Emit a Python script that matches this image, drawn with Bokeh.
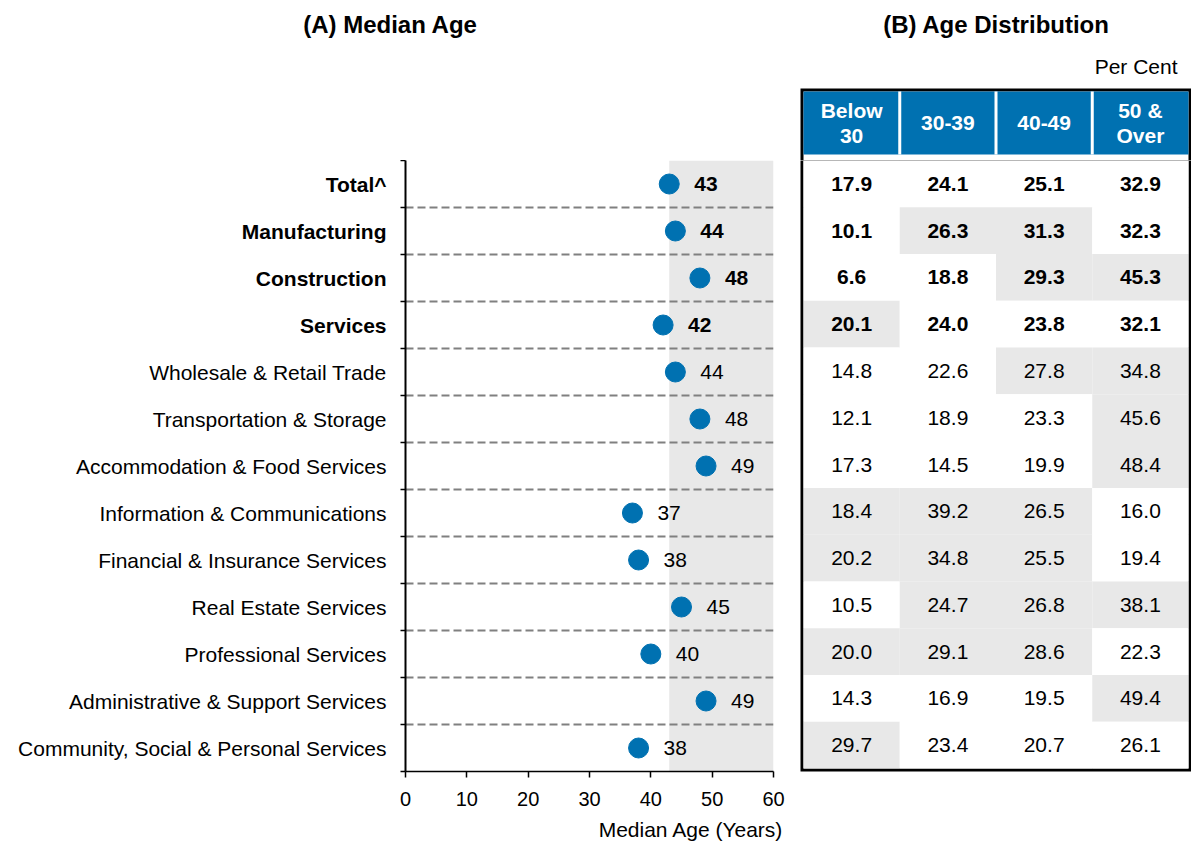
from bokeh.plotting import figure
from bokeh.models import ColumnDataSource, Range1d, FixedTicker, BoxAnnotation, Title
from bokeh.layouts import row, column
from bokeh.embed import file_html
from bokeh.resources import INLINE
from bokeh.core.properties import value, field

# ---------------- data ----------------
industries = [
    "Total^", "Manufacturing", "Construction", "Services",
    "Wholesale & Retail Trade", "Transportation & Storage",
    "Accommodation & Food Services", "Information & Communications",
    "Financial & Insurance Services", "Real Estate Services",
    "Professional Services", "Administrative & Support Services",
    "Community, Social & Personal Services",
]
median_age = [43, 44, 48, 42, 44, 48, 49, 37, 38, 45, 40, 49, 38]
n_bold = 4  # Total and the three broad sectors are shown in bold

age_groups = ["Below\n30", "30-39", "40-49", "50 &\nOver"]
below_30 = [17.9, 10.1, 6.6, 20.1, 14.8, 12.1, 17.3, 18.4, 20.2, 10.5, 20.0, 14.3, 29.7]
age_30_39 = [24.1, 26.3, 18.8, 24.0, 22.6, 18.9, 14.5, 39.2, 34.8, 24.7, 29.1, 16.9, 23.4]
age_40_49 = [25.1, 31.3, 29.3, 23.8, 27.8, 23.3, 19.9, 26.5, 25.5, 26.8, 28.6, 19.5, 20.7]
age_50_over = [32.9, 32.3, 45.3, 32.1, 34.8, 45.6, 48.4, 16.0, 19.4, 38.1, 22.3, 49.4, 26.1]

x_ticks = [0, 10, 20, 30, 40, 50, 60]

title_a = "(A) Median Age"
title_b = "(B) Age Distribution"
unit_note = "Per Cent"
x_title = "Median Age (Years)"

# ---------------- style ----------------
FONT = "Liberation Sans"
FS = "21px"
TICK_FS = "20px"
TFS = "24px"
BLUE = "#0071b1"
SHADE = "#e8e8e8"
DASH = "#808080"

nrows = len(industries)
ncols = len(age_groups)
styles = ["bold" if i < n_bold else "normal" for i in range(nrows)]
yc = [nrows - i - 0.5 for i in range(nrows)]

PAGE_W, PAGE_H = 1191, 848
A_LEFT, A_RIGHT, A_TOP, A_BOTTOM = 405, 773, 160, 773  # page px of chart frame
TOP_H = A_TOP                   # title / table-header strip
MID_H = PAGE_H - TOP_H
L_W = 390                       # label column width
A_W = 795 - L_W                 # chart figure width
B_W = PAGE_W - L_W - A_W        # table figure width

# table geometry (page px)
T_OUT_L, T_OUT_R, T_OUT_T = 800, 1191, 88
BW = 3                          # border width
T_IN_L, T_IN_R = T_OUT_L + BW, T_OUT_R - BW
HEAD_T, HEAD_B = T_OUT_T + BW, 154
DATA_B = A_BOTTOM - BW
col_px = (T_IN_R - T_IN_L) / ncols


def blank(w, h, xr, yr):
    f = figure(width=w, height=h, output_backend="svg", toolbar_location=None,
               x_axis_type=None, y_axis_type=None, x_range=xr, y_range=yr,
               min_border_left=0, min_border_right=0, min_border_top=0,
               min_border_bottom=0)
    f.outline_line_color = None
    f.grid.visible = False
    f.background_fill_color = "white"
    f.border_fill_color = "white"
    return f


def txt(f, x, y, s, size=FS, style="normal", align="center", color="black"):
    f.text(x=[x], y=[y], text=[s], text_font=value(FONT), text_font_size=size,
           text_font_style=style, text_align=align, text_baseline="middle",
           text_color=color)


# ---------------- top strip: titles + table header (pixel coordinates) ----------------
pT = blank(PAGE_W, TOP_H, Range1d(0, PAGE_W), Range1d(TOP_H, 0))
txt(pT, 390, 24, title_a, size=TFS, style="bold")
txt(pT, 996, 24, title_b, size=TFS, style="bold")
txt(pT, 1177, 66, unit_note, align="right")
pT.quad(left=[T_OUT_L], right=[T_OUT_R], top=[T_OUT_T], bottom=[TOP_H],
        fill_color="black", line_color=None)
pT.quad(left=[T_IN_L], right=[T_IN_R], top=[HEAD_T], bottom=[TOP_H],
        fill_color="white", line_color=None)
pT.quad(left=[T_IN_L], right=[T_IN_R], top=[HEAD_T], bottom=[HEAD_B],
        fill_color=BLUE, line_color=None)
sep_x = [T_IN_L + col_px * k for k in range(1, ncols)]
pT.segment(x0=sep_x, x1=sep_x, y0=[HEAD_T] * len(sep_x), y1=[HEAD_B] * len(sep_x),
           line_color="white", line_width=3)
srcH = ColumnDataSource(dict(x=[T_IN_L + col_px * (j + 0.5) for j in range(ncols)],
                             y=[(HEAD_T + HEAD_B) / 2] * ncols, t=age_groups))
pT.text(x="x", y="y", text="t", source=srcH, text_font=value(FONT), text_font_size=FS,
        text_font_style="bold", text_align="center", text_baseline="middle",
        text_color="white", text_line_height=1.1)

# ---------------- panel A: category labels ----------------
pL = figure(width=L_W, height=MID_H, output_backend="svg", toolbar_location=None,
            x_axis_type=None, y_axis_type=None,
            x_range=Range1d(0, L_W), y_range=Range1d(0, nrows),
            min_border_left=0, min_border_right=0, min_border_top=A_TOP - TOP_H,
            min_border_bottom=PAGE_H - A_BOTTOM)
pL.outline_line_color = None
pL.grid.visible = False
srcL = ColumnDataSource(dict(name=industries, y=yc, style=styles))
pL.text(x=A_LEFT - 19, y="y", text="name", source=srcL, text_font=value(FONT),
        text_font_size=FS, text_font_style=field("style"), text_align="right",
        text_baseline="middle", text_color="black")

# ---------------- panel A: chart ----------------
pA = figure(width=A_W, height=MID_H, output_backend="svg", toolbar_location=None,
            x_range=Range1d(0, 60), y_range=Range1d(0, nrows),
            min_border_left=A_LEFT - L_W, min_border_right=L_W + A_W - A_RIGHT,
            min_border_top=A_TOP - TOP_H, min_border_bottom=PAGE_H - A_BOTTOM)
pA.outline_line_color = None
pA.background_fill_color = "white"
pA.border_fill_color = "white"

pA.xgrid.visible = False
pA.ygrid.ticker = FixedTicker(ticks=list(range(1, nrows + 1)))
pA.ygrid.grid_line_color = DASH
pA.ygrid.grid_line_width = 2
pA.ygrid.grid_line_dash = "8 4"

pA.add_layout(BoxAnnotation(left=median_age[0], fill_color=SHADE, fill_alpha=1.0,
                            line_color=None, level="image"))

xa = pA.xaxis[0]
xa.ticker = FixedTicker(ticks=x_ticks)
xa.axis_line_color = "black"
xa.axis_line_width = 1.5
xa.major_tick_line_color = "black"
xa.major_tick_line_width = 1.5
xa.major_tick_out = 6
xa.major_tick_in = 0
xa.minor_tick_line_color = None
xa.major_label_text_font = FONT
xa.major_label_text_font_size = TICK_FS
xa.major_label_text_color = "black"
xa.major_label_standoff = 14

y_ticks = list(range(0, nrows + 1))
ya = pA.yaxis[0]
ya.ticker = FixedTicker(ticks=y_ticks)
ya.major_label_overrides = {t: "" for t in y_ticks}
ya.axis_line_color = "black"
ya.axis_line_width = 2
ya.major_tick_line_color = "black"
ya.major_tick_line_width = 1.5
ya.major_tick_out = 5
ya.major_tick_in = 0
ya.minor_tick_line_color = None
ya.major_label_standoff = 0

pA.add_layout(Title(text=x_title, align="right", offset=-10, standoff=15,
                    text_font=FONT, text_font_size=FS, text_font_style="normal",
                    text_color="black"), "below")

srcA = ColumnDataSource(dict(age=median_age, y=yc, style=styles,
                             label=[str(v) for v in median_age]))
pA.scatter(x="age", y="y", size=20, fill_color=BLUE, line_color=BLUE, source=srcA)
pA.text(x="age", y="y", text="label", source=srcA, x_offset=25,
        text_font=value(FONT), text_font_size=FS, text_font_style=field("style"),
        text_align="left", text_baseline="middle", text_color="black")

# ---------------- panel B: table body ----------------
B_PAGE_X0 = L_W + A_W
row_px = (DATA_B - A_TOP) / nrows


def bx(px):
    return (px - T_IN_L) / col_px


def by(py):
    return (DATA_B - py) / row_px


pB = figure(width=B_W, height=MID_H, output_backend="svg", toolbar_location=None,
            x_axis_type=None, y_axis_type=None,
            x_range=Range1d(bx(T_OUT_L), bx(T_OUT_R)),
            y_range=Range1d(by(A_BOTTOM), nrows),
            min_border_left=T_OUT_L - B_PAGE_X0, min_border_right=B_PAGE_X0 + B_W - T_OUT_R,
            min_border_top=A_TOP - TOP_H, min_border_bottom=PAGE_H - A_BOTTOM)
pB.outline_line_color = None
pB.background_fill_color = "black"
pB.border_fill_color = "white"
pB.grid.visible = False

pB.quad(left=[0], right=[ncols], bottom=[0], top=[nrows],
        fill_color="white", line_color=None)

cols = [below_30, age_30_39, age_40_49, age_50_over]
cell_x, cell_y, cell_txt, cell_style, cell_fill = [], [], [], [], []
for j, col in enumerate(cols):
    for i, v in enumerate(col):
        cell_x.append(j + 0.5)
        cell_y.append(yc[i])
        cell_txt.append(f"{v:.1f}")
        cell_style.append(styles[i])
        cell_fill.append(SHADE if v > col[0] else "white")  # above the Total share
srcB = ColumnDataSource(dict(x=cell_x, y=cell_y, txt=cell_txt, style=cell_style, fill=cell_fill))
pB.rect(x="x", y="y", width=1, height=1, fill_color="fill", line_color=None, source=srcB)
pB.text(x="x", y="y", text="txt", source=srcB, text_font=value(FONT), text_font_size=FS,
        text_font_style=field("style"), text_align="center", text_baseline="middle",
        text_color="black")

layout = column(pT, row(pL, pA, pB, spacing=0), spacing=0)
open("out.html", "w").write(file_html(layout, INLINE))
